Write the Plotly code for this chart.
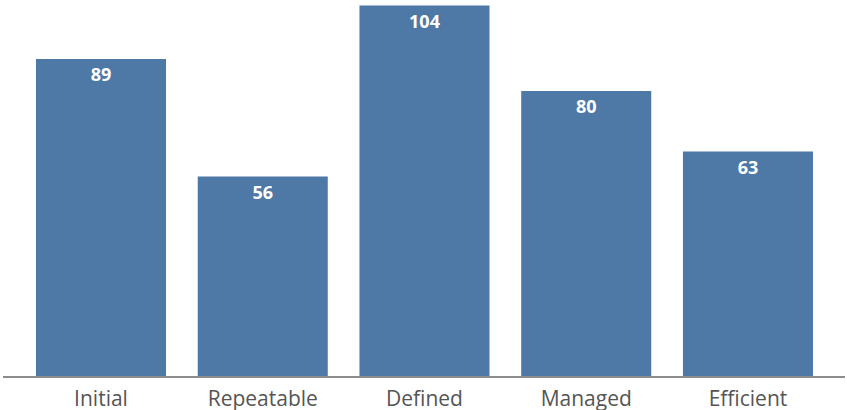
import plotly.graph_objects as go

stages = ["Initial", "Repeatable", "Defined", "Managed", "Efficient"]
counts = [89, 56, 104, 80, 63]

BAR_COLOR = "#4e79a7"
FONT = "Open Sans"

fig = go.Figure(
    go.Bar(
        x=stages,
        y=counts,
        marker=dict(color=BAR_COLOR, line=dict(width=0)),
        text=[str(v) for v in counts],
        textposition="inside",
        insidetextanchor="end",
        textangle=0,
        textfont=dict(family=FONT, size=18, color="white", weight="bold"),
        cliponaxis=False,
        hoverinfo="skip",
    )
)

fig.update_layout(
    width=847,
    height=410,
    margin=dict(l=3, r=2, t=0, b=34),
    paper_bgcolor="white",
    plot_bgcolor="white",
    bargap=0.196,
    showlegend=False,
    font=dict(family=FONT),
)

fig.update_xaxes(
    type="category",
    range=[-0.606, 4.6],
    automargin=False,
    showline=True,
    linecolor="#8c8c8c",
    linewidth=2,
    ticks="",
    ticklabelstandoff=3,
    showgrid=False,
    tickfont=dict(family=FONT, size=21, color="#555555"),
)

fig.update_yaxes(
    range=[0, 105.56],
    visible=False,
    automargin=False,
    showgrid=False,
    zeroline=False,
)

fig.write_html("out.html")
